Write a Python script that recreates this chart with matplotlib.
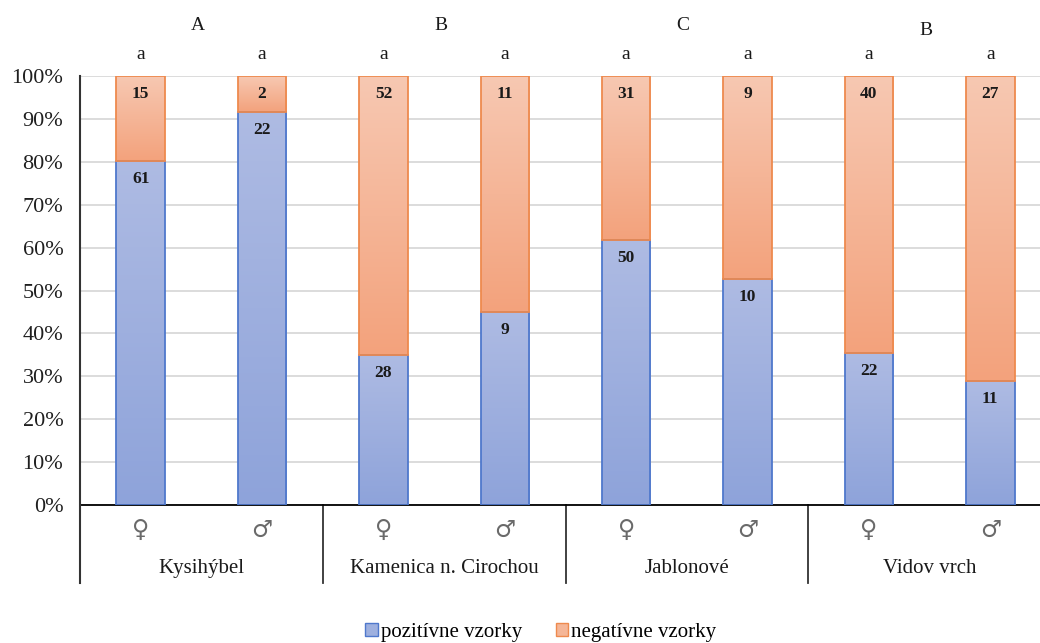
import numpy as np
import matplotlib
matplotlib.use("Agg")
import matplotlib.pyplot as plt
from matplotlib.colors import LinearSegmentedColormap
from matplotlib.patches import Patch

# ---- data ----
locations = ["Kysihýbel", "Kamenica n. Cirochou", "Jablonové", "Vidov vrch"]
sexes = ["♀", "♂"]
positive = [61, 22, 28, 9, 50, 10, 22, 11]
negative = [15, 2, 52, 11, 31, 9, 40, 27]
bar_letters = ["a", "a", "a", "a", "a", "a", "a", "a"]
group_letters = ["A", "B", "C", "B"]
series_names = ["pozitívne vzorky", "negatívne vzorky"]
ytick_vals = [0, 10, 20, 30, 40, 50, 60, 70, 80, 90, 100]

SERIF = ["Liberation Serif", "DejaVu Serif"]
SYM = ["DejaVu Sans"]

pos = np.array(positive, float)
neg = np.array(negative, float)
tot = pos + neg
pos_pct = pos / tot * 100
neg_pct = neg / tot * 100
x = np.arange(len(positive))

fig = plt.figure(figsize=(10.4, 6.43), dpi=100)
ax = fig.add_axes([80 / 1040, 138 / 643, 971 / 1040, 429 / 643])

blue_edge = "#4f78cc"
orange_edge = "#ee8a4e"
blue_cmap = LinearSegmentedColormap.from_list("b", ["#8ea3da", "#aebbe3"])
orange_cmap = LinearSegmentedColormap.from_list("o", ["#f3a27c", "#f7c8b2"])

bw = 0.4
b1 = ax.bar(x, pos_pct, bw, facecolor="none", edgecolor=blue_edge, linewidth=1.3, zorder=3)
b2 = ax.bar(x, neg_pct, bw, bottom=pos_pct, facecolor="none", edgecolor=orange_edge,
            linewidth=1.3, zorder=3)

grad = np.linspace(0, 1, 256).reshape(-1, 1)
for bars, cmap in ((b1, blue_cmap), (b2, orange_cmap)):
    for p in bars:
        x0, y0, w, h = p.get_x(), p.get_y(), p.get_width(), p.get_height()
        ax.imshow(grad, extent=[x0, x0 + w, y0, y0 + h], origin="lower",
                  aspect="auto", cmap=cmap, zorder=2, interpolation="bilinear")

# value labels
for i in range(len(x)):
    ax.annotate(str(positive[i]), (x[i], pos_pct[i]), xytext=(0, -13),
                textcoords="offset points", ha="center", va="center",
                fontsize=12.5, fontweight="bold", family=SERIF, color="#1a1a1a", zorder=4)
    ax.annotate(str(negative[i]), (x[i], 100), xytext=(0, -13),
                textcoords="offset points", ha="center", va="center",
                fontsize=12.5, fontweight="bold", family=SERIF, color="#1a1a1a", zorder=4)

ax.set_xlim(-0.5, len(x) - 0.5)
ax.set_ylim(0, 100)
ax.set_yticks(ytick_vals)
ax.set_yticklabels([f"{v}%" for v in ytick_vals], family=SERIF, fontsize=16, color="#1f1f1f")
ax.tick_params(axis="y", length=0, pad=12)
ax.set_xticks([])
ax.yaxis.grid(True, color="#d9d9d9", linewidth=1.3)
ax.set_axisbelow(True)
for s in ("top", "right", "left"):
    ax.spines[s].set_visible(False)
ax.spines["bottom"].set_color("black")
ax.spines["bottom"].set_linewidth(1.3)

tr = ax.get_xaxis_transform()
low = -0.182
# left axis line extended down and group separators
ax.plot([-0.5, -0.5], [low, 1.0], transform=tr, color="#333333", lw=1.5, clip_on=False, zorder=5)
for k in range(1, len(locations)):
    xs = 2 * k - 0.5
    ax.plot([xs, xs], [low, 0], transform=tr, color="#333333", lw=1.3, clip_on=False)

# sex symbols and location names
for i in range(len(x)):
    ax.text(x[i], -0.058, sexes[i % 2], transform=tr, ha="center", va="center",
            fontsize=17, family=SYM, color="#6a6a6a")
    ax.text(x[i], 1.049, bar_letters[i], transform=tr, ha="center", va="center",
            fontsize=14, family=SERIF, color="#1a1a1a")
for k, name in enumerate(locations):
    ax.text(2 * k + 0.5, -0.147, name, transform=tr, ha="center", va="center",
            fontsize=15, family=SERIF, color="#1a1a1a")
    ax.text(2 * k + 0.5 - 0.03, 1.117 if k < 3 else 1.105, group_letters[k], transform=tr,
            ha="center", va="center", fontsize=14, family=SERIF, color="#1a1a1a")

handles = [Patch(facecolor="#9eb0df", edgecolor=blue_edge, label=series_names[0]),
           Patch(facecolor="#f5b697", edgecolor=orange_edge, label=series_names[1])]
fig.legend(handles=handles, loc="center", bbox_to_anchor=(0.52, 0.017), ncol=2,
           frameon=False, prop={"family": SERIF, "size": 15}, handlelength=0.6,
           handleheight=0.6, handletextpad=0.15, columnspacing=1.6)

fig.savefig("out.png", dpi=100)
